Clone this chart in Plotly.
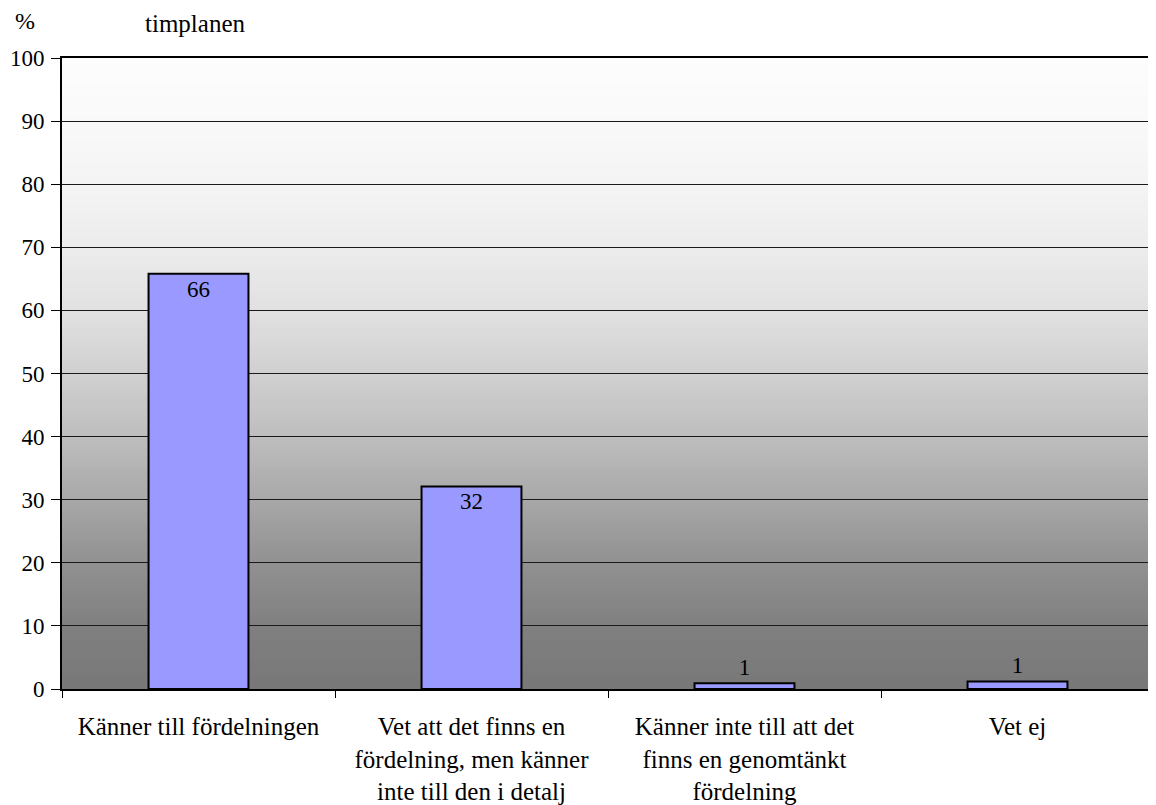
import plotly.graph_objects as go

categories = [
    "Känner till fördelningen",
    "Vet att det finns en<br>fördelning, men känner<br>inte till den i detalj",
    "Känner inte till att det<br>finns en genomtänkt<br>fördelning",
    "Vet ej",
]
values = [65.8, 32.1, 0.9, 1.2]
y_ticks = list(range(0, 101, 10))

FONT = "Liberation Serif, Times New Roman, serif"

# background gradient stops (value on y axis -> gray level)
grad_stops = [(0, 120), (10, 128), (20, 145), (30, 168), (40, 190), (50, 208),
              (60, 225), (70, 236), (80, 244), (90, 249), (100, 253)]


def gray_at(v):
    for (v0, g0), (v1, g1) in zip(grad_stops[:-1], grad_stops[1:]):
        if v0 <= v <= v1:
            t = (v - v0) / (v1 - v0)
            return g0 + t * (g1 - g0)
    return grad_stops[-1][1]


shapes = []
step = 0.5
n = int(100 / step)
for i in range(n):
    y0 = i * step
    y1 = min(100, y0 + step * 2.2)
    g = int(round(gray_at(y0 + step / 2)))
    col = f"rgb({g},{g},{g})"
    shapes.append(dict(type="rect", xref="x domain", yref="y", x0=0, x1=1,
                       y0=y0, y1=y1, fillcolor=col, line=dict(width=0),
                       layer="below"))

fig = go.Figure()
fig.add_trace(go.Bar(
    x=categories, y=values,
    marker=dict(color="#9999ff", line=dict(color="black", width=2)),
    texttemplate="%{y:.0f}", textposition="auto",
    insidetextanchor="end",
    textfont=dict(family=FONT, size=23, color="black"),
    insidetextfont=dict(family=FONT, size=23, color="black"),
    outsidetextfont=dict(family=FONT, size=23, color="black"),
    cliponaxis=False,
    hoverinfo="skip",
))

fig.update_layout(
    width=1148, height=797,
    margin=dict(l=54, r=0, t=50, b=115),
    paper_bgcolor="white", plot_bgcolor="rgba(0,0,0,0)",
    bargap=0.634, showlegend=False,
    shapes=shapes,
    font=dict(family=FONT, size=23, color="black"),
    annotations=[
        dict(text="%", xref="paper", yref="paper", x=0, y=1.0, xanchor="center",
             yanchor="middle", xshift=-37, yshift=37, showarrow=False,
             font=dict(family=FONT, size=24, color="black")),
        dict(text="timplanen", xref="paper", yref="paper", x=0, y=1.0,
             xanchor="left", yanchor="middle", xshift=81, yshift=35, showarrow=False,
             font=dict(family=FONT, size=25, color="black")),
    ],
)

fig.update_xaxes(
    type="category", showline=True, linecolor="black", linewidth=2,
    mirror=True, ticks="outside", tickson="boundaries", ticklen=7,
    tickcolor="black", tickwidth=1, showgrid=False, ticklabelstandoff=14,
    tickfont=dict(family=FONT, size=25, color="black"),
)
fig.update_yaxes(
    range=[0, 100], tickvals=y_ticks, ticks="outside", ticklen=9,
    tickcolor="black", tickwidth=1, showline=True, linecolor="black",
    linewidth=2, mirror=True, showgrid=True, gridcolor="#1a1a1a", gridwidth=1,
    zeroline=False, ticklabelstandoff=2,
    tickfont=dict(family=FONT, size=23, color="black"),
)

fig.write_html("out.html")
